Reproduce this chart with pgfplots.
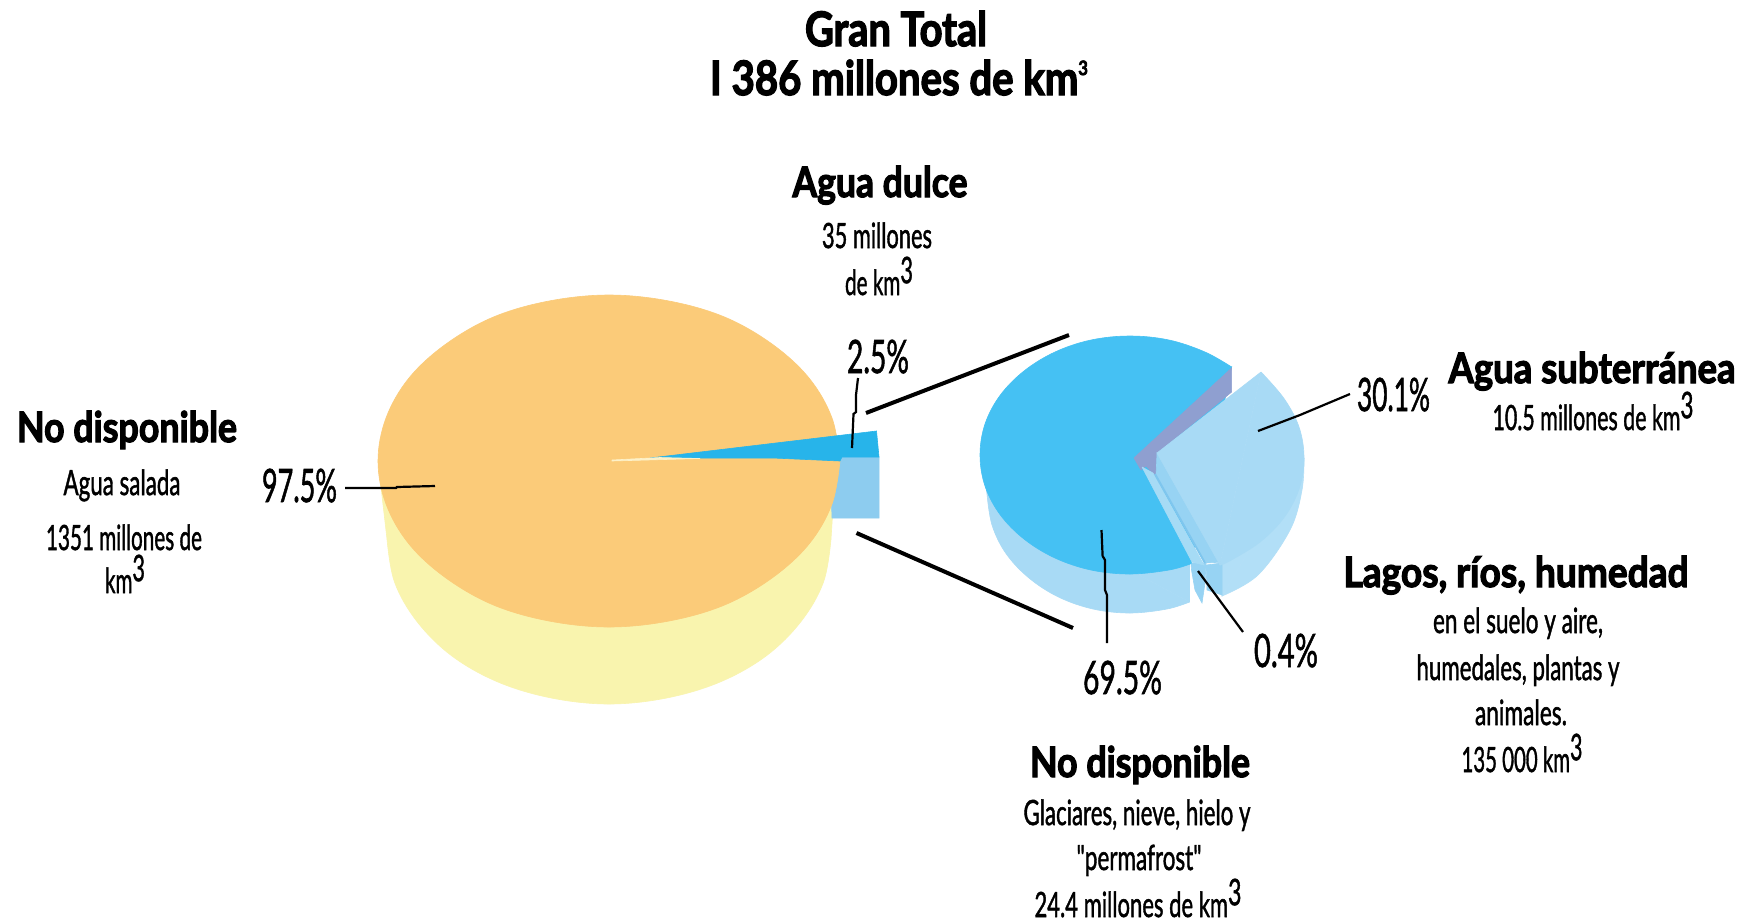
\documentclass[border=0pt]{standalone}
\usepackage{pgfplots}
\usepackage{graphicx}
\usepackage{fontspec}
\pgfplotsset{compat=1.18}
\setmainfont{Lato}
\newfontfamily\headf[BoldFeatures={FakeBold=3}]{Lato}
\newfontfamily\bodyf[FakeBold=1.6]{Lato}
\definecolor{orng}{HTML}{FBCB79}
\definecolor{yel}{HTML}{F9F4AE}
\definecolor{wedge}{HTML}{27B4EA}
\definecolor{wedgeside}{HTML}{8DCCEF}
\definecolor{cream}{HTML}{FDF1C8}
\definecolor{topb}{HTML}{45C1F3}
\definecolor{pale}{HTML}{A8DAF5}
\definecolor{paleside}{HTML}{B2DFF7}
\definecolor{purp}{HTML}{8F9FD0}
\definecolor{midb}{HTML}{97D3F3}
\definecolor{lineb}{HTML}{7FC6EE}
\definecolor{stripb}{HTML}{A6DBF5}
% heading, body and percentage labels: {x}{y baseline}{width}{size}{text}
\newcommand{\hd}[5]{\node[anchor=base,inner sep=0pt] at (axis cs:#1,#2) {\resizebox{#3pt}{\height}{\headf\bfseries\fontsize{#4}{#4}\selectfont #5}};}
\newcommand{\bd}[5]{\node[anchor=base,inner sep=0pt] at (axis cs:#1,#2) {\resizebox{#3pt}{\height}{\bodyf\fontsize{#4}{#4}\selectfont #5}};}
\newcommand{\cub}{\raisebox{.34em}{\scalebox{1.05}{3}}}
\newcommand{\tinycub}{\raisebox{.42em}{\scalebox{.42}{3}}}
\pgfplotsset{shapef/.style={draw=#1,line width=0.3pt,fill=#1,forget plot},
  arcf/.style={draw=#1,line width=0.3pt,fill=#1,smooth,tension=0.6,forget plot},
  lead/.style={black,line width=#1,no markers,forget plot}}
\begin{document}
\begin{tikzpicture}
\begin{axis}[hide axis,scale only axis,width=877.5pt,height=461pt,
  xmin=0,xmax=1755,ymin=0,ymax=922,y dir=reverse,clip=false,no markers]
\addplot[fill=white,draw=none,forget plot] coordinates {(0,0)(1755,0)(1755,922)(0,922)} \closedcycle;
% big pie: wall
\addplot[arcf=yel] coordinates {(831,539)(823.5,582)(801,621.5)(766,656)(720,682)(666.5,698)(609,704)(551.5,698)(498,682)(452,656)(417,621.5)(394.5,582)(387,539)};
\addplot[shapef=yel] coordinates {(831,539)(387,539)(378,461)(836,461)(831,539)};
% 2.5% wedge wall
\addplot[shapef=wedgeside] coordinates {(830,457)(879,457)(879,518)(832,518)(830,457)};
% big pie: top
\addplot[arcf=orng] coordinates {(840,461)(832,504)(809,544)(772,578)(724.5,605)(669,621)(609,627)(549,621)(493.5,605)(446,578)(409,544)(386,504)(378,461)(386,418)(409,378)(446,344)(493.5,317)(549,301)(609,295)(669,301)(724.5,317)(772,344)(809,378)(832,418)(840,461)};
% 2.5% wedge
\addplot[shapef=wedge] coordinates {(650,458)(876.5,431)(879,457)(842,457)(840,461)(773,458)(650,458)};
\addplot[shapef=cream] coordinates {(612,460)(660,457.5)(700,458.5)(612,461)(612,460)};
% small pie: 69.5% wall
\addplot[arcf=pale] coordinates {(1189.5,602)(1167,609)(1130,613)(1093,609)(1058.5,597)(1029,578)(1006,553.5)(992,525)(987,494)};
\addplot[shapef=pale] coordinates {(1189.5,602)(987,494)(981,455)(1189.5,500)(1189.5,602)};
% small pie: 0.4% small wedge
\addplot[shapef=midb] coordinates {(1191,563)(1206,563)(1205,583)(1202,603)(1195,590)(1191.5,570)(1191,563)};
% small pie: 30.1% wall
\addplot[arcf=paleside] coordinates {(1304,458)(1302,490)(1290,530)(1258,575)(1222,596)};
\addplot[shapef=paleside] coordinates {(1304,458)(1222,596)(1220,565)(1304,458)};
\addplot[shapef=midb] coordinates {(1206,565)(1222,563)(1222,595)(1207,590)(1206,565)};
% small pie: 69.5% top
\addplot[arcf=topb] coordinates {(1191,563.7)(1169,570)(1130,574)(1091,570)(1055,558)(1024,539)(1000,514.5)(985,486)(980,455)(985,424)(1000,395.5)(1024,371)(1055,352)(1091,340)(1130,336)(1169,340)(1205,352)(1231.6,367)};
\addplot[shapef=topb] coordinates {(1191,563.7)(1134,458)(1231.6,367)(1191,563.7)};
% inner faces
\addplot[shapef=purp] coordinates {(1134,458)(1231.6,368)(1231.6,392)(1157,453)(1156,477)(1146,466)(1141,470)(1134,458)};
\addplot[shapef=stripb] coordinates {(1142,467)(1192,562)(1204,565)(1153,473)(1142,467)};
\addplot[shapef=midb] coordinates {(1156,477)(1206,563)(1223,562)(1157,453)(1156,477)};
\addplot[draw=lineb,line width=1pt,forget plot] coordinates {(1155,474)(1205,563)};
% small pie: 30.1% top
\addplot[arcf=pale] coordinates {(1261,372)(1284,398.5)(1299,427)(1304,458)(1299,489)(1284,517.5)(1260,542)(1229.5,561)(1220,565)};
\addplot[shapef=pale] coordinates {(1261,372)(1220,565)(1157,453)(1261,372)};
% connecting lines
\addplot[lead=2pt] coordinates {(866,413)(1069,335)};
\addplot[lead=2pt] coordinates {(856.5,533)(1073,628)};
% leaders
\addplot[lead=1.1pt] coordinates {(345,488)(396,488)(397,487)(435,486)};
\addplot[lead=1.1pt] coordinates {(858,378)(856,395)(856,412)(853.5,414)(852,448)};
\addplot[lead=1.1pt] coordinates {(1258,431)(1300,415)(1350,394)};
\addplot[lead=1.1pt] coordinates {(1198,571)(1243,632)};
\addplot[lead=1.1pt] coordinates {(1101.5,530)(1102.6,556)(1105,560)(1105,590)(1107,595)(1107,643)};
% texts
\hd{896}{46}{91}{23.7}{Gran Total}
\hd{899}{95}{189}{23.7}{I 386 millones de km\tinycub}
\hd{880}{197}{87.5}{21}{Agua dulce}
\bd{877}{248}{55}{17.4}{35 millones}
\bd{879}{295}{34}{17.4}{de km\cub}
\bd{878}{373}{31}{23}{2.5\%}
\hd{127}{442}{110}{21}{No disponible}
\bd{122}{495}{58.5}{17.4}{Agua salada}
\bd{124}{550}{78}{17.4}{1351 millones de}
\bd{125}{593}{20}{17.4}{km\cub}
\bd{299.5}{502}{37.5}{23}{97.5\%}
\hd{1592}{383}{143.5}{21}{Agua subterránea}
\bd{1593}{430}{100.5}{17.4}{10.5 millones de km\cub}
\bd{1393.5}{411}{36.5}{23}{30.1\%}
\hd{1516}{587}{172.5}{21}{Lagos, ríos, humedad}
\bd{1518}{633}{85}{17.4}{en el suelo y aire,}
\bd{1518}{680}{101.5}{17.4}{humedales, plantas y}
\bd{1521}{725}{46}{17.4}{animales.}
\bd{1522}{772}{60.5}{17.4}{135 000 km\cub}
\bd{1122.5}{694}{39.5}{23}{69.5\%}
\bd{1286}{667}{32}{23}{0.4\%}
\hd{1140}{777}{110}{21}{No disponible}
\bd{1137}{825}{113.5}{17.4}{Glaciares, nieve, hielo y}
\bd{1139}{870}{62.5}{17.4}{"permafrost"}
\bd{1138}{917}{103.5}{17.4}{24.4 millones de km\cub}
\end{axis}
\end{tikzpicture}
\end{document}
